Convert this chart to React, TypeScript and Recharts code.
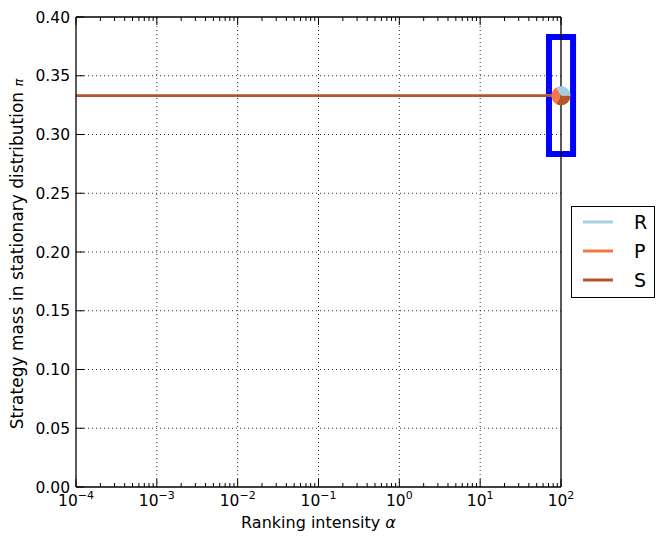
import React from "react";
import { LineChart, Line, XAxis, YAxis, ReferenceLine, ReferenceArea, Customized } from "recharts";

const alphas = [1e-4, 1e-3, 1e-2, 1e-1, 1, 10, 100];
const rMass = [0.333, 0.333, 0.333, 0.333, 0.333, 0.333, 0.333];
const pMass = [0.333, 0.333, 0.333, 0.333, 0.333, 0.333, 0.333];
const sMass = [0.333, 0.333, 0.333, 0.333, 0.333, 0.333, 0.333];

const seriesNames = ["R", "P", "S"];
const seriesColors = ["#a6cee3", "#f4774b", "#b4552b"];

const majorX = [1e-4, 1e-3, 1e-2, 1e-1, 1, 10, 100];
const minorMult = [2, 3, 4, 5, 6, 7, 8, 9];
const yTicks = [0, 0.05, 0.1, 0.15, 0.2, 0.25, 0.3, 0.35, 0.4];

// highlight box around the last point (data coords)
const boxX = [71, 141];
const boxY = [0.2834, 0.383];

const FONT = "DejaVu Sans";

const data = alphas.map((a, i) => ({ alpha: a, R: rMass[i], P: pMass[i], S: sMass[i] }));

const allXTicks: number[] = [];
majorX.forEach((m, i) => {
  allXTicks.push(m);
  if (i < majorX.length - 1) minorMult.forEach(k => allXTicks.push(+(m * k).toPrecision(6)));
});

const isMajor = (v: number) => majorX.some(m => Math.abs(m - v) / m < 1e-6);

const BottomTick = (props: any) => {
  const { x, y, payload } = props;
  const v = payload.value;
  const major = isMajor(v);
  const exp = Math.round(Math.log10(v));
  return (
    <g>
      <line x1={x} x2={x} y1={y} y2={y - (major ? 8 : 4)} stroke="#000" strokeWidth={1} />
      {major && (
        <text x={x} y={y + 19} textAnchor="middle" fontFamily={FONT} fontSize={15.5} fill="#000">
          10
          <tspan dy={-7} fontSize={11}>{exp < 0 ? "\u2212" + Math.abs(exp) : String(exp)}</tspan>
        </text>
      )}
    </g>
  );
};

const TopTick = (props: any) => {
  const { x, y, payload } = props;
  const major = isMajor(payload.value);
  return <line x1={x} x2={x} y1={y} y2={y + (major ? 8 : 4)} stroke="#000" strokeWidth={1} />;
};

const LeftTick = (props: any) => {
  const { x, y, payload } = props;
  return (
    <g>
      <line x1={x} x2={x + 8} y1={y} y2={y} stroke="#000" strokeWidth={1} />
      <text x={x - 6} y={y} dy={5.5} textAnchor="end" fontFamily={FONT} fontSize={15.5} fill="#000">
        {payload.value.toFixed(2)}
      </text>
    </g>
  );
};

const RightTick = (props: any) => {
  const { x, y } = props;
  return <line x1={x} x2={x - 8} y1={y} y2={y} stroke="#000" strokeWidth={1} />;
};

const PieDot = (props: any) => {
  const { cx, cy, index } = props;
  if (index !== alphas.length - 1 || cx == null) return <g key={"d" + index} />;
  const vals = [rMass[index], pMass[index], sMass[index]];
  const total = vals.reduce((a, b) => a + b, 0);
  const r = 9.5;
  let a0 = 0;
  return (
    <g key={"d" + index}>
      {vals.map((v, i) => {
        const a1 = a0 + (v / total) * Math.PI * 2;
        const p0 = [cx + r * Math.cos(a0), cy - r * Math.sin(a0)];
        const p1 = [cx + r * Math.cos(a1), cy - r * Math.sin(a1)];
        const large = a1 - a0 > Math.PI ? 1 : 0;
        const d = `M${cx},${cy} L${p0[0]},${p0[1]} A${r},${r} 0 ${large} 0 ${p1[0]},${p1[1]} Z`;
        a0 = a1;
        return <path key={i} d={d} fill={seriesColors[i]} stroke="none" />;
      })}
    </g>
  );
};

const AxisTitles = () => (
  <g fontFamily={FONT} fill="#000">
    <text x={318.5} y={528} textAnchor="middle" fontSize={16}>
      Ranking intensity <tspan fontStyle="italic">α</tspan>
    </text>
    <text x={23} y={254} textAnchor="middle" fontSize={17} transform="rotate(-90 23 254)">
      Strategy mass in stationary distribution <tspan fontStyle="italic" fontSize={13}>π</tspan>
    </text>
  </g>
);

export default function App() {
  return (
    <div style={{ position: "absolute", left: 0, top: 0, width: 665, height: 545, background: "#fff" }}>
      <LineChart width={665} height={545} data={data} margin={{ top: 16, right: 103, bottom: 57, left: 75 }}>
        <XAxis
          xAxisId="b"
          dataKey="alpha"
          type="number"
          scale="log"
          domain={[1e-4, 100]}
          ticks={allXTicks}
          interval={0}
          height={1}
          tickSize={0}
          tickMargin={0}
          tickLine={false}
          tick={<BottomTick />}
          axisLine={{ stroke: "#000", strokeWidth: 1.3 }}
        />
        <XAxis
          xAxisId="t"
          orientation="top"
          dataKey="alpha"
          type="number"
          scale="log"
          domain={[1e-4, 100]}
          ticks={allXTicks}
          interval={0}
          height={1}
          tickSize={0}
          tickMargin={0}
          tickLine={false}
          tick={<TopTick />}
          axisLine={{ stroke: "#000", strokeWidth: 1.3 }}
        />
        <YAxis
          yAxisId="l"
          type="number"
          domain={[0, 0.4]}
          ticks={yTicks}
          interval={0}
          width={1}
          tickSize={0}
          tickMargin={0}
          tickLine={false}
          tick={<LeftTick />}
          axisLine={{ stroke: "#000", strokeWidth: 1.3 }}
        />
        <YAxis
          yAxisId="r"
          orientation="right"
          type="number"
          domain={[0, 0.4]}
          ticks={yTicks}
          interval={0}
          width={1}
          tickSize={0}
          tickMargin={0}
          tickLine={false}
          tick={<RightTick />}
          axisLine={{ stroke: "#000", strokeWidth: 1.3 }}
        />
        {majorX.slice(1, -1).map(v => (
          <ReferenceLine key={"gx" + v} xAxisId="b" yAxisId="l" x={v} stroke="#000" strokeWidth={0.8} strokeDasharray="1 3" />
        ))}
        {yTicks.slice(1, -1).map(v => (
          <ReferenceLine key={"gy" + v} xAxisId="b" yAxisId="l" y={v} stroke="#000" strokeWidth={0.8} strokeDasharray="1 3" />
        ))}
        {seriesNames.map((n, i) => (
          <Line
            key={n}
            xAxisId="b"
            yAxisId="l"
            dataKey={n}
            stroke={seriesColors[i]}
            strokeWidth={2.5}
            dot={i === seriesNames.length - 1 ? PieDot : false}
            activeDot={false}
            isAnimationActive={false}
          />
        ))}
        <ReferenceArea
          xAxisId="b"
          yAxisId="l"
          x1={boxX[0]}
          x2={boxX[1]}
          y1={boxY[0]}
          y2={boxY[1]}
          fill="none"
          fillOpacity={0}
          stroke="#0000ff"
          strokeWidth={6}
          ifOverflow="visible"
        />
        <Customized component={AxisTitles} />
      </LineChart>
      <div
        style={{
          position: "absolute",
          left: 571,
          top: 206,
          width: 84,
          height: 92,
          boxSizing: "border-box",
          border: "1.3px solid #000",
          background: "#fff",
        }}
      >
        <svg width={82} height={90} style={{ display: "block" }}>
          {seriesNames.map((n, i) => {
            const cy = 15 + i * 29;
            return (
              <g key={n}>
                <line x1={11} x2={41} y1={cy} y2={cy} stroke={seriesColors[i]} strokeWidth={3} />
                <text x={62} y={cy + 7} fontFamily={FONT} fontSize={19} fill="#000">{n}</text>
              </g>
            );
          })}
        </svg>
      </div>
    </div>
  );
}
